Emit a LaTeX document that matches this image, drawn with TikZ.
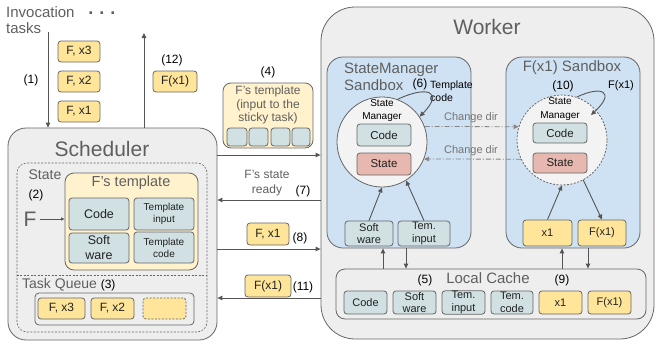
\documentclass[tikz,border=0pt]{standalone}
\usepackage{fontspec}
\setmainfont{Liberation Sans}
\usetikzlibrary{arrows.meta,calc}
\definecolor{bggray}{HTML}{EEEEEE}
\definecolor{bord}{HTML}{666666}
\definecolor{ltxt}{HTML}{5F5F5F}
\definecolor{dtxt}{HTML}{222222}
\definecolor{sbblue}{HTML}{CFE2F3}
\definecolor{ltyel}{HTML}{FFF2CC}
\definecolor{yel}{HTML}{FFE599}
\definecolor{cyanb}{HTML}{D0E0E3}
\definecolor{redb}{HTML}{E6B8AF}
\definecolor{circf}{HTML}{F3F3F3}
\definecolor{arrc}{HTML}{555555}
\newcommand\fsz[2]{\fontsize{#1}{#2}\selectfont}
\newcommand\bx[7]{\node[#6, minimum width={(#4-#2)*1pt}, minimum height={(#5-#3)*1pt}] (#1) at ({(#2+#4)/2},{(#3+#5)/2}) {#7};}
\tikzset{
  cont/.style={draw=bord, line width=0.8pt, fill=bggray, inner sep=0pt},
  cbox/.style={draw=bord, line width=0.8pt, rounded corners=3pt, fill=cyanb, inner sep=0.5pt, align=center, text=dtxt},
  ybox/.style={cbox, fill=yel},
  rbox/.style={cbox, fill=redb},
  tbox/.style={draw=bord, line width=0.8pt, fill=ltyel, inner sep=0pt},
  sbox/.style={draw=bord, line width=0.8pt, fill=sbblue, inner sep=0pt, rounded corners=16pt},
  dbox/.style={draw=bord, line width=0.6pt, dash pattern=on 2pt off 1.5pt, inner sep=0pt},
  arr/.style={draw=arrc, line width=0.9pt, -{Triangle[length=5pt,width=4.5pt]}},
  ddarr/.style={draw=bord!80, line width=0.8pt, dash pattern=on 5pt off 2pt on 1pt off 2pt, -{Triangle[length=5pt,width=4.5pt]}},
  ttl/.style={text=ltxt, inner sep=0pt},
  lbl/.style={text=black, inner sep=0pt, font=\fsz{12}{14}},
}
\begin{document}
\begin{tikzpicture}[x=1pt,y=-1pt]
\useasboundingbox (0,0) rectangle (657,346);

% ---------- containers ----------
\bx{sched}{8}{128}{217}{340}{cont, rounded corners=18pt}{}
\bx{worker}{321}{7}{654}{339}{cont, rounded corners=34pt}{}
\node[ttl, font=\fsz{21}{24}] (schedt) at (102,149) {Scheduler};
\node[ttl, font=\fsz{21}{24}] (workert) at (487,27) {Worker};

% ---------- invocation tasks ----------
\node[ttl, font=\fsz{15}{16}, align=left, anchor=west] (invt) at (6,20) {Invocation\\tasks};
\node[ttl, font=\bfseries\fsz{18}{20}] (dots) at (102,13) {.\,\,.\,\,.};
\node[lbl] (l1) at (31,80) {(1)};
\bx{fx3}{58}{41}{100}{62}{ybox, font=\fsz{12}{14}}{F, x3}
\bx{fx2}{58}{71}{100}{92}{ybox, font=\fsz{12}{14}}{F, x2}
\bx{fx1}{58}{101}{100}{122}{ybox, font=\fsz{12}{14}}{F, x1}
\coordinate (inv) at (48,32);
\draw[arr] (inv) -- (inv |- sched.north);
\node[lbl] (l12) at (172,60) {(12)};
\bx{res}{153}{71}{197}{92}{ybox, font=\fsz{12}{14}}{F(x1)}
\coordinate (out) at (144,33);
\draw[arr] (out |- sched.north) -- (out);

% ---------- scheduler internals ----------
\bx{state}{17}{163}{207}{332}{dbox, rounded corners=10pt}{}
\coordinate (ysep) at (0,275);
\draw[draw=bord, line width=0.6pt, dash pattern=on 2pt off 1.5pt] (state.west |- ysep) -- (state.east |- ysep);
\node[ttl, font=\fsz{14}{16}] (statet) at (45,175) {State};
\node[lbl] (l2) at (36,195) {(2)};
\node[ttl, font=\fsz{21}{24}] (bigF) at (30,219) {F};
\bx{tmpl}{65}{173}{198}{270}{tbox, rounded corners=9pt}{}
\node[ttl, font=\fsz{14.5}{16}] (tmplt) at (131,183) {F's template};
\draw[arr, line width=0.7pt, -{Triangle[length=3.5pt,width=3pt]}] (bigF.east) ++(3,0) coordinate (fs) (fs) -- (fs -| tmpl.west);
\bx{tcode}{69}{198}{129}{230}{cbox, font=\fsz{12.5}{14}}{Code}
\bx{tinp}{134}{198}{194}{230}{cbox, font=\fsz{10}{12}}{Template\\input}
\bx{tsw}{69}{233}{129}{263}{cbox, font=\fsz{12.5}{15}}{Soft\\ware}
\bx{tcod}{134}{232}{194}{263}{cbox, font=\fsz{10}{12}}{Template\\code}
\node[ttl, font=\fsz{14}{16}, anchor=west] (tqt) at (22,285) {Task Queue \textcolor{black}{\fsz{12}{14}(3)}};
\bx{tq}{35}{293}{194}{325}{draw=bord, line width=0.8pt, rounded corners=4pt, inner sep=0pt}{}
\bx{q3}{38}{298}{85}{319}{ybox, font=\fsz{12}{14}}{F, x3}
\bx{q2}{91}{298}{134}{319}{ybox, font=\fsz{12}{14}}{F, x2}
\bx{q1}{143}{298}{186}{319}{ybox, draw=bord, dash pattern=on 2pt off 1.5pt}{}

% ---------- between scheduler and worker ----------
\node[lbl] (l4) at (268,72) {(4)};
\bx{tin}{223}{83}{313}{148}{tbox, rounded corners=8pt}{}
\node[ttl, font=\fsz{12}{13.5}, align=center] (tint) at (268,105) {F's template\\(input to the\\sticky task)};
\bx{s1}{227}{128}{247}{146}{cbox}{}
\bx{s2}{249}{128}{268}{146}{cbox}{}
\bx{s3}{271}{128}{290}{146}{cbox}{}
\bx{s4}{292}{128}{310}{146}{cbox}{}
\coordinate (ya) at (0,155);
\coordinate (yb) at (0,200);
\coordinate (yc) at (0,249);
\coordinate (yd) at (0,298);
\draw[arr] (sched.east |- ya) -- (worker.west |- ya);
\draw[arr] (worker.west |- yb) -- (sched.east |- yb);
\draw[arr] (sched.east |- yc) -- (worker.west |- yc);
\draw[arr] (worker.west |- yd) -- (sched.east |- yd);
\node[ttl, font=\fsz{12}{15}, align=center] (readyt) at (267,183.5) {F's state\\ready};
\node[lbl] (l7) at (303,191) {(7)};
\bx{sx1}{247}{223}{289}{245}{ybox, font=\fsz{12}{14}}{F, x1}
\node[lbl] (l8) at (300,238) {(8)};
\bx{sfx}{245}{275}{291}{297}{ybox, font=\fsz{12}{14}}{F(x1)}
\node[lbl] (l11) at (303,287) {(11)};

% ---------- StateManager sandbox ----------
\bx{smsb}{327}{57}{471}{248}{sbox}{}
\node[ttl, font=\fsz{15}{17}, align=left, anchor=west] (smsbt) at (344,76.5) {StateManager\\Sandbox};
\node[lbl] (l6) at (420,84) {(6)};
\node[inner sep=0pt, font=\fsz{10.5}{13}, align=left, anchor=west] (tcodet) at (430,91.5) {Template\\code};
\node[circle, draw=bord, line width=0.8pt, fill=circf, minimum size=90pt, inner sep=0pt] (smc) at (382,142) {};
\node[inner sep=0pt, font=\fsz{10}{13}, align=center] (smct) at (382,110.5) {State\\Manager};
\bx{smcode}{357}{124}{411}{146}{cbox, font=\fsz{11.5}{14}}{Code}
\bx{smstate}{357}{153}{411}{175}{rbox, font=\fsz{11.5}{14}}{State}
\bx{sw1}{345}{221}{393}{246}{cbox, font=\fsz{11}{12.5}}{Soft\\ware}
\bx{ti1}{398}{221}{450}{246}{cbox, font=\fsz{11}{12.5}}{Tem.\\input}
\draw[arr] (sw1.north) -- (smc.south);
\draw[arr] (ti1.north) -- (smc.-58);
\draw[arr] (smc.70) .. controls (428,85) and (444,92) .. (smc.34);

% ---------- F(x1) sandbox ----------
\bx{fxsb}{506}{57}{640}{248}{sbox}{}
\node[ttl, font=\fsz{15}{17}] (fxsbt) at (572,68) {F(x1) Sandbox};
\node[lbl] (l10) at (563,86) {(10)};
\node[inner sep=0pt, font=\fsz{11}{13}] (fxlt) at (621,86) {F(x1)};
\node[circle, draw=bord, line width=0.8pt, dash pattern=on 2pt off 1.5pt, fill=circf, minimum size=90pt, inner sep=0pt] (fxc) at (562,140) {};
\node[inner sep=0pt, font=\fsz{10}{14}, align=center] (fxct) at (560,109.5) {State\\Manager};
\bx{fxcode}{533}{123}{587}{143}{cbox, font=\fsz{11.5}{14}}{Code}
\bx{fxstate}{533}{153}{587}{173}{rbox, font=\fsz{11.5}{14}}{State}
\bx{x1a}{523}{220}{572}{246}{ybox, font=\fsz{11}{13}}{x1}
\bx{fx1a}{578}{220}{626}{246}{ybox, font=\fsz{11}{13}}{F(x1)}
\draw[arr] (x1a.north) -- (fxc.south);
\draw[arr] (fxc.-62) -- (fx1a.north);
\draw[arr] (fxc.71) .. controls (602,85) and (616,92) .. ($(fxc.center)+(29,-25)$);

% ---------- change dir ----------
\draw[ddarr] (smc.20) -- (fxc.163);
\draw[ddarr] (fxc.205) -- (smc.-22);
\node[inner sep=0pt, text=bord!90, font=\fsz{11}{13}] (cd1) at (471,118) {Change dir};
\node[inner sep=0pt, text=bord!90, font=\fsz{11}{13}] (cd2) at (471,151) {Change dir};

% ---------- local cache ----------
\bx{lc}{336}{269}{646}{319}{draw=bord, line width=0.8pt, rounded corners=9pt, inner sep=0pt}{}
\node[ttl, font=\fsz{15}{17}] (lct) at (488,278) {Local Cache};
\node[lbl] (l5) at (425,280) {(5)};
\node[lbl] (l9) at (562,280) {(9)};
\bx{c1}{344}{291}{387}{314}{cbox, font=\fsz{11}{12.5}}{Code}
\bx{c2}{393}{291}{436}{314}{cbox, font=\fsz{11}{12.5}}{Soft\\ware}
\bx{c3}{442}{291}{485}{314}{cbox, font=\fsz{11}{12.5}}{Tem.\\input}
\bx{c4}{491}{291}{533}{314}{cbox, font=\fsz{11}{12.5}}{Tem.\\code}
\bx{c5}{539}{291}{582}{314}{ybox, font=\fsz{11}{12.5}}{x1}
\bx{c6}{588}{291}{631}{314}{ybox, font=\fsz{11}{12.5}}{F(x1)}
\coordinate (xa) at (383,0);
\coordinate (xb) at (406,0);
\coordinate (xc) at (562,0);
\coordinate (xd) at (588,0);
\draw[arr] (lc.north -| xa) -- (smsb.south -| xa);
\draw[arr] (smsb.south -| xb) -- (lc.north -| xb);
\draw[arr] (lc.north -| xc) -- (fxsb.south -| xc);
\draw[arr] (fxsb.south -| xd) -- (lc.north -| xd);
\end{tikzpicture}
\end{document}
